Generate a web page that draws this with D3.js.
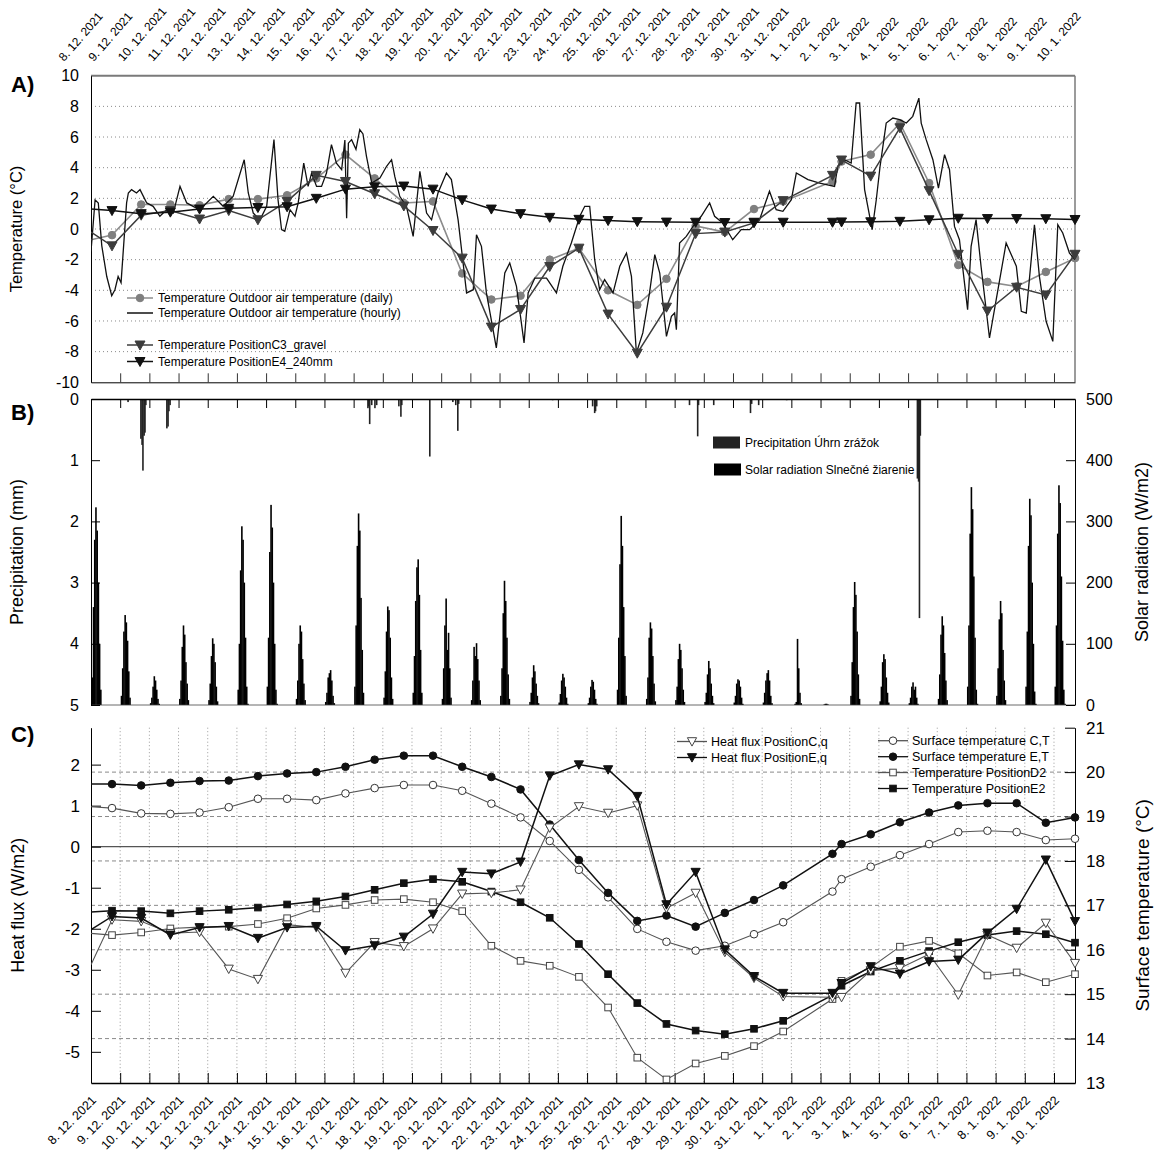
<!DOCTYPE html>
<html><head><meta charset="utf-8">
<script src="https://cdn.jsdelivr.net/npm/d3@7"></script>
<style>body{margin:0;background:#fff}</style>
</head><body><svg id="c" width="1158" height="1154"></svg>
<script>
// ---------------- DATA ----------------
const dateLabels = ["8. 12. 2021","9. 12. 2021","10. 12. 2021","11. 12. 2021","12. 12. 2021","13. 12. 2021","14. 12. 2021","15. 12. 2021","16. 12. 2021","17. 12. 2021","18. 12. 2021","19. 12. 2021","20. 12. 2021","21. 12. 2021","22. 12. 2021","23. 12. 2021","24. 12. 2021","25. 12. 2021","26. 12. 2021","27. 12. 2021","28. 12. 2021","29. 12. 2021","30. 12. 2021","31. 12. 2021","1. 1. 2022","2. 1. 2022","3. 1. 2022","4. 1. 2022","5. 1. 2022","6. 1. 2022","7. 1. 2022","8. 1. 2022","9. 1. 2022","10. 1. 2022"];

// time of daily values (days after 8.12.), first entry = value at left edge
const dailyDays = [0,0.72,1.72,2.72,3.72,4.72,5.72,6.72,7.72,8.72,9.72,10.72,11.72,12.72,13.72,14.72,15.72,16.72,17.72,18.72,19.72,20.72,21.72,22.72,23.72,25.41,25.72,26.72,27.72,28.72,29.72,30.72,31.72,32.72,33.72];

// Panel A
const outdoorDaily = [-0.7,-0.4,1.6,1.6,1.55,1.95,1.95,2.2,3.3,4.85,3.3,1.7,1.8,-2.9,-4.6,-4.35,-2.0,-1.25,-4.0,-4.95,-3.25,0.2,-0.2,1.3,1.8,3.1,4.4,4.85,6.9,3.0,-2.35,-3.45,-3.75,-2.8,-1.9];
const posC3gravel = [-0.2,-1.1,0.9,1.2,0.65,1.2,0.6,1.8,3.5,3.1,2.3,1.5,-0.1,-1.9,-6.4,-5.25,-2.45,-1.25,-5.55,-8.1,-5.1,-0.3,-0.2,0.4,1.85,3.5,4.5,3.45,6.6,2.5,-1.65,-5.35,-3.8,-4.3,-1.65];
const posE4_240 = [1.3,1.2,1.0,1.1,1.3,1.35,1.4,1.45,2.0,2.6,2.75,2.8,2.6,1.9,1.3,1.0,0.76,0.63,0.55,0.48,0.45,0.44,0.42,0.44,0.44,0.44,0.46,0.47,0.5,0.6,0.7,0.68,0.68,0.67,0.62];

const hourlyDays = [0,0.14,0.25,0.37,0.54,0.71,0.82,0.93,1.03,1.22,1.28,1.39,1.56,1.68,1.91,2.13,2.36,2.59,2.82,3.05,3.28,3.5,3.73,4.19,4.53,4.87,5.25,5.39,5.56,5.79,6.02,6.27,6.41,6.53,6.64,6.82,6.99,7.1,7.29,7.44,7.56,7.73,7.9,8.07,8.24,8.41,8.59,8.7,8.76,8.82,8.93,9.08,9.21,9.32,9.44,9.62,9.9,10.13,10.3,10.41,10.58,10.81,11.04,11.27,11.5,11.67,11.89,12.18,12.35,12.58,12.87,13.1,13.21,13.38,13.55,13.89,14.18,14.35,14.58,14.84,14.98,15.21,15.61,15.95,16.17,16.46,16.75,16.92,17.09,17.26,17.43,17.6,17.89,18.12,18.35,18.52,18.69,18.91,19.14,19.32,19.49,19.72,19.89,20.0,20.06,20.17,20.4,20.63,20.91,21.2,21.37,21.65,21.99,22.28,22.57,22.91,23.25,23.48,23.71,24.0,24.17,24.57,24.97,25.48,25.59,25.82,26.05,26.22,26.34,26.51,26.77,26.91,27.04,27.25,27.48,27.71,27.94,28.16,28.37,28.45,28.62,28.85,29.04,29.25,29.42,29.59,29.76,30.04,30.16,30.33,30.5,30.79,31.02,31.36,31.71,31.88,32.05,32.33,32.5,32.73,32.96,33.13,33.3,33.53,33.72];
const hourlyTemp = [-1.46,1.9,1.7,-1.1,-3.1,-4.35,-3.96,-3.1,-3.5,1.7,2.35,2.57,2.35,2.57,1.7,1.48,0.83,1.26,1.04,2.78,1.7,1.48,1.26,2.13,1.48,2.13,4.52,2.35,1.04,0.6,1.48,5.83,1.9,-0.04,-0.15,1.26,0.83,1.7,4.3,2.78,3.65,2.78,2.78,3.65,5.5,4.3,3.87,5.8,0.7,5.6,5.83,5.2,6.48,6.2,4.74,3.0,3.33,4.09,4.52,3.43,2.13,1.48,-0.48,3.76,1.04,0.6,2.35,3.65,3.22,0.6,-4.17,-3.96,-0.37,-1.13,-4.17,-7.76,-2.87,-2.22,-3.74,-7.43,-4.17,-3.2,-3.2,-4.17,-2.43,-0.91,0.83,1.48,1.48,-2.0,-3.96,-3.3,-4.17,-2.43,-1.57,-3.09,-8.09,-6.78,-4.17,-1.67,-2.87,-7.0,-5.7,-5.48,-6.57,-0.91,-0.48,0.17,0.83,1.7,0.83,0.39,-0.7,-0.04,-0.04,0.6,2.46,1.26,1.15,1.91,3.65,3.22,3.0,2.78,4.09,4.52,4.3,8.22,8.22,2.57,-0.04,1.91,4.09,6.91,7.24,7.13,6.91,7.35,8.54,6.91,5.83,4.52,2.67,4.85,3.87,0.17,-0.7,-5.26,-1.13,0.61,-2.43,-7.11,-4.61,-0.91,-2.43,-5.37,-5.48,0.28,-3.09,-6.02,-7.33,0.28,-0.26,-1.57,-2.0];

// Panel B: hourly solar radiation (W/m2), 9 daylight hours per day
const solarHourly = [
 [45,160,270,323,285,200,100,25,0],[15,60,120,147,135,105,55,12,0],[3,12,30,47,40,25,10,2,0],
 [10,40,95,130,115,70,35,8,0],[8,35,80,109,100,70,30,6,0],[25,100,220,292,270,200,110,30,2],
 [30,110,250,327,290,200,100,25,2],[10,40,100,130,120,75,35,8,0],[5,20,45,52,57,40,15,3,0],
 [30,130,260,313,285,175,90,20,0],[12,55,120,161,155,110,45,10,0],[20,80,170,225,238,180,90,20,0],
 [10,60,130,174,90,118,60,12,0],[8,40,95,80,101,75,40,8,0],[15,60,150,203,170,110,50,10,0],
 [5,20,45,65,55,35,15,3,0],[4,18,40,51,45,30,12,2,0],[3,12,30,41,38,25,10,2,0],
 [25,110,230,309,260,160,80,15,0],[10,45,110,135,125,80,35,6,0],[8,30,75,100,90,60,25,5,0],
 [5,20,50,72,60,35,15,3,0],[4,15,35,42,40,30,12,2,0],[4,20,40,52,57,40,15,3,0],
 [0,0,2,5,108,60,20,3,0],[0,0,1,2,2,1,0,0,0],[15,70,160,201,180,120,50,10,0],
 [6,30,70,83,75,45,20,4,0],[3,12,30,37,25,30,12,2,0],[10,50,115,145,130,85,40,8,0],
 [30,130,280,356,320,210,110,25,2],[15,60,140,170,150,90,40,8,0],[30,120,260,337,310,200,100,22,2],
 [30,130,280,359,330,210,105,25,2]];
const solarNoonOffset = 0.17;
const precipDays = [1.27,1.71,1.75,1.78,1.82,1.85,1.88,2.6,2.64,2.67,2.71,9.49,9.52,9.55,9.62,9.73,9.79,10.55,10.62,10.65,11.61,12.4,12.5,12.57,12.6,15.82,17.19,17.26,17.29,17.33,20.51,20.79,20.82,21.34,22.6,22.64,22.88,23.84,28.32,28.36,28.39,28.42];
const precipMm = [0.05,0.65,0.75,1.17,0.6,0.55,0.1,0.48,0.45,0.2,0.1,0.15,0.12,0.41,0.1,0.15,0.1,0.12,0.29,0.1,0.94,0.05,0.1,0.52,0.08,0.02,0.12,0.23,0.2,0.12,0.1,0.61,0.1,0.1,0.23,0.08,0.1,0.02,1.3,1.35,3.58,0.6];

// Panel C
const surfaceTempC = [19.22,19.19,19.07,19.06,19.09,19.21,19.40,19.40,19.37,19.52,19.64,19.71,19.71,19.58,19.29,18.98,18.45,17.80,17.18,16.47,16.18,15.98,16.09,16.35,16.62,17.31,17.59,17.87,18.13,18.38,18.65,18.68,18.65,18.47,18.50];
const surfaceTempE = [19.73,19.73,19.70,19.76,19.80,19.81,19.91,19.97,20.00,20.12,20.28,20.37,20.37,20.12,19.89,19.61,18.82,18.02,17.28,16.65,16.77,16.52,16.83,17.12,17.45,18.16,18.38,18.60,18.87,19.09,19.25,19.30,19.30,18.86,18.98];
const tempPosD2 = [16.37,16.33,16.39,16.48,16.51,16.52,16.58,16.71,16.93,17.01,17.12,17.14,17.07,16.87,16.09,15.75,15.64,15.39,14.70,13.57,13.08,13.44,13.61,13.83,14.16,14.89,15.30,15.60,16.07,16.20,15.92,15.42,15.49,15.27,15.45];
const tempPosE2 = [16.85,16.88,16.87,16.82,16.87,16.90,16.95,17.02,17.09,17.20,17.35,17.50,17.59,17.53,17.31,17.07,16.72,16.13,15.45,14.80,14.33,14.18,14.10,14.22,14.40,14.98,15.19,15.51,15.75,15.97,16.17,16.33,16.42,16.35,16.16];
const heatFluxC = [-2.88,-1.78,-1.82,-2.11,-2.08,-2.98,-3.23,-1.90,-1.97,-3.08,-2.33,-2.43,-2.00,-1.15,-1.13,-1.05,0.46,0.98,0.82,1.00,-1.50,-1.13,-2.57,-3.20,-3.65,-3.67,-3.67,-3.02,-2.96,-2.62,-3.61,-2.15,-2.47,-1.86,-2.84];
const heatFluxE = [-2.02,-1.70,-1.74,-2.15,-1.97,-1.94,-2.23,-1.97,-1.94,-2.53,-2.41,-2.20,-1.64,-0.62,-0.66,-0.37,1.73,2.00,1.88,1.23,-1.41,-0.62,-2.51,-3.16,-3.57,-3.57,-3.33,-2.92,-3.10,-2.80,-2.76,-2.10,-1.52,-0.32,-1.82];

// ---------------- DRAW ----------------
const FONT = '"Liberation Sans", Arial, Helvetica, sans-serif';
const svg = d3.select("#c").style("font-family", FONT);
const X0 = 91, X1 = 1075;
const x = d3.scaleLinear().domain([0, 33.72]).range([X0, X1]);
const dayTicks = d3.range(1, 34);
const PA = {top: 75.7, bottom: 382.3};
const PB = {top: 399, bottom: 705};
const PC = {top: 727.7, bottom: 1083};
const yA = d3.scaleLinear().domain([-10, 10]).range([PA.bottom, PA.top]);
const yP = d3.scaleLinear().domain([0, 5]).range([PB.top, PB.bottom]);
const yS = d3.scaleLinear().domain([0, 500]).range([PB.bottom, PB.top]);
const yQ = d3.scaleLinear().domain([-5.76, 2.9]).range([PC.bottom, PC.top]);
const yT = d3.scaleLinear().domain([13, 21]).range([PC.bottom, PC.top]);
const fmt = d => String(d);

const defs = svg.append("defs");
[["clipA", PA], ["clipB", PB], ["clipC", PC]].forEach(([id, p]) => {
  defs.append("clipPath").attr("id", id).append("rect")
    .attr("x", X0).attr("y", p.top).attr("width", X1 - X0).attr("height", p.bottom - p.top);
});

const triDown = "M-5,-4L5,-4L0,5Z";
const triDownS = "M-4.6,-3.8L4.6,-3.8L0,4.6Z";
function marker(g, type, cx, cy, fill, stroke) {
  if (type === "circle") return g.append("circle").attr("cx", cx).attr("cy", cy).attr("r", 3.8).attr("fill", fill).attr("stroke", stroke).attr("stroke-width", 1);
  if (type === "square") return g.append("rect").attr("x", cx - 3.3).attr("y", cy - 3.3).attr("width", 6.6).attr("height", 6.6).attr("fill", fill).attr("stroke", stroke).attr("stroke-width", 1);
  if (type === "tri") return g.append("path").attr("d", triDown).attr("transform", `translate(${cx},${cy})`).attr("fill", fill).attr("stroke", stroke).attr("stroke-width", 1);
  if (type === "triS") return g.append("path").attr("d", triDownS).attr("transform", `translate(${cx},${cy})`).attr("fill", fill).attr("stroke", stroke).attr("stroke-width", 1);
}
function drawSeries(values, yScale, clip, lineColor, lineWidth, mType, mFill, mStroke) {
  const g = svg.append("g");
  const pts = dailyDays.map((d, i) => [d, values[i]]);
  g.append("path").datum(pts).attr("clip-path", `url(#${clip})`)
    .attr("d", d3.line().x(d => x(d[0])).y(d => yScale(d[1])))
    .attr("fill", "none").attr("stroke", lineColor).attr("stroke-width", lineWidth);
  pts.slice(1).forEach(p => marker(g, mType, x(p[0]), yScale(p[1]), mFill, mStroke));
}

// panel letters
[["A)", 92], ["B)", 420], ["C)", 742]].forEach(([t, yb]) =>
  svg.append("text").attr("x", 11).attr("y", yb).attr("font-size", 22).attr("font-weight", "bold").text(t));

// ---- top date labels
const xTop = d3.scaleLinear().domain([0, 33]).range([x(0) - 27, x(33) - 12]);
svg.append("g").selectAll("text").data(dateLabels).join("text")
  .attr("transform", (d, i) => `translate(${xTop(i)},62) rotate(-49)`)
  .attr("font-size", 12).attr("text-anchor", "start").text(d => d);

// ---- Panel A
const gA = svg.append("g");
gA.selectAll("line.grid").data(d3.range(-8, 9, 2)).join("line")
  .attr("x1", X0).attr("x2", X1).attr("y1", d => yA(d)).attr("y2", d => yA(d))
  .attr("stroke", "#8a8a8a").attr("stroke-width", 1).attr("stroke-dasharray", "1,3");
gA.append("line").attr("x1", X0).attr("x2", X1).attr("y1", PA.top).attr("y2", PA.top).attr("stroke", "#7a7a7a").attr("stroke-width", 2);
gA.append("line").attr("x1", X1).attr("x2", X1).attr("y1", PA.top).attr("y2", PA.bottom).attr("stroke", "#7a7a7a").attr("stroke-width", 1.5);
const axA = gA.append("g").attr("transform", `translate(${X0},0)`)
  .call(d3.axisLeft(yA).tickValues(d3.range(-10, 11, 2)).tickSize(0).tickPadding(12).tickFormat(fmt));
axA.select(".domain").attr("stroke", "#000");
axA.selectAll("text").attr("font-size", 16).attr("font-family", FONT);
const axAb = gA.append("g").attr("transform", `translate(0,${PA.bottom})`)
  .call(d3.axisBottom(x).tickValues(dayTicks).tickSize(-9).tickSizeOuter(0).tickFormat(""));
axAb.selectAll("line").attr("stroke", "#333");
svg.append("text").attr("transform", `translate(22,${(PA.top + PA.bottom) / 2}) rotate(-90)`)
  .attr("text-anchor", "middle").attr("font-size", 16.5).text("Temperature (°C)");

drawSeries(outdoorDaily, yA, "clipA", "#8c8c8c", 1.6, "circle", "#7f7f7f", "#7f7f7f");
svg.append("path").datum(hourlyDays.map((d, i) => [d, hourlyTemp[i]])).attr("clip-path", "url(#clipA)")
  .attr("d", d3.line().x(d => x(d[0])).y(d => yA(d[1])))
  .attr("fill", "none").attr("stroke", "#111").attr("stroke-width", 1.3);
drawSeries(posC3gravel, yA, "clipA", "#3c3c3c", 1.5, "tri", "#3c3c3c", "#3c3c3c");
drawSeries(posE4_240, yA, "clipA", "#111", 1.5, "tri", "#111", "#111");

// legend A
const legA = [
  {t: "Temperature Outdoor air temperature (daily)", c: "#8c8c8c", m: "circle", f: "#7f7f7f", y: 298},
  {t: "Temperature Outdoor air temperature (hourly)", c: "#111", m: null, y: 313},
  {t: "Temperature PositionC3_gravel", c: "#3c3c3c", m: "tri", f: "#3c3c3c", y: 345},
  {t: "Temperature PositionE4_240mm", c: "#111", m: "tri", f: "#111", y: 361.5}];
legA.forEach(l => {
  const g = svg.append("g");
  g.append("line").attr("x1", 127).attr("x2", 153).attr("y1", l.y).attr("y2", l.y).attr("stroke", l.c).attr("stroke-width", 1.5);
  if (l.m) marker(g, l.m, 140, l.y, l.f, l.f);
  g.append("text").attr("x", 158).attr("y", l.y + 4).attr("font-size", 12).text(l.t);
});

// ---- Panel B
const gB = svg.append("g");
const barsS = gB.append("g").attr("clip-path", "url(#clipB)");
solarHourly.forEach((day, k) => day.forEach((v, i) => {
  if (v <= 0) return;
  const t = k + solarNoonOffset + (i - 3) / 24;
  barsS.append("rect").attr("x", x(t) - 0.8).attr("width", 1.6)
    .attr("y", yS(v)).attr("height", yS(0) - yS(v)).attr("fill", "#000");
}));
const barsP = gB.append("g").attr("clip-path", "url(#clipB)");
barsP.selectAll("rect").data(precipDays).join("rect")
  .attr("x", d => x(d) - 0.8).attr("width", 1.6)
  .attr("y", yP(0)).attr("height", (d, i) => yP(precipMm[i]) - yP(0)).attr("fill", "#222");
gB.append("line").attr("x1", X0).attr("x2", X1).attr("y1", PB.bottom).attr("y2", PB.bottom).attr("stroke", "#444").attr("stroke-width", 0.8);
const axBt = gB.append("g").attr("transform", `translate(0,${PB.top})`)
  .call(d3.axisTop(x).tickValues(dayTicks).tickSize(-9).tickSizeOuter(0).tickFormat(""));
axBt.select(".domain").attr("stroke-width", 1.3);
const axBl = gB.append("g").attr("transform", `translate(${X0},0)`)
  .call(d3.axisLeft(yP).tickValues(d3.range(0, 6)).tickSize(-9).tickSizeOuter(0).tickPadding(12).tickFormat(fmt));
axBl.selectAll("text").attr("font-size", 16).attr("font-family", FONT);
const axBr = gB.append("g").attr("transform", `translate(${X1},0)`)
  .call(d3.axisRight(yS).tickValues(d3.range(0, 501, 100)).tickSize(-9).tickSizeOuter(0).tickPadding(11).tickFormat(fmt));
axBr.selectAll("text").attr("font-size", 16).attr("font-family", FONT);
svg.append("text").attr("transform", `translate(23,${(PB.top + PB.bottom) / 2}) rotate(-90)`)
  .attr("text-anchor", "middle").attr("font-size", 18).text("Precipitation (mm)");
svg.append("text").attr("transform", `translate(1148,${(PB.top + PB.bottom) / 2}) rotate(-90)`)
  .attr("text-anchor", "middle").attr("font-size", 18).text("Solar radiation (W/m2)");
// legend B
svg.append("rect").attr("x", 713).attr("y", 436.5).attr("width", 27).attr("height", 12).attr("fill", "#222");
svg.append("text").attr("x", 745).attr("y", 447).attr("font-size", 12).text("Precipitation Úhrn zrážok");
svg.append("rect").attr("x", 714).attr("y", 463.5).attr("width", 27).attr("height", 12).attr("fill", "#000");
svg.append("text").attr("x", 745).attr("y", 474).attr("font-size", 12).text("Solar radiation Slnečné žiarenie");

// ---- Panel C
const gC = svg.append("g");
gC.selectAll("line.vg").data(dayTicks).join("line")
  .attr("x1", d => x(d)).attr("x2", d => x(d)).attr("y1", PC.top).attr("y2", PC.bottom)
  .attr("stroke", "#9a9a9a").attr("stroke-width", 1).attr("stroke-dasharray", "1,2.5");
gC.selectAll("line.hg").data(d3.range(14, 21)).join("line")
  .attr("x1", X0).attr("x2", X1).attr("y1", d => yT(d)).attr("y2", d => yT(d))
  .attr("stroke", "#8a8a8a").attr("stroke-width", 1).attr("stroke-dasharray", "4,3");
gC.append("line").attr("x1", X0).attr("x2", X1).attr("y1", yQ(0)).attr("y2", yQ(0)).attr("stroke", "#555").attr("stroke-width", 1.3);
const axCl = gC.append("g").attr("transform", `translate(${X0},0)`)
  .call(d3.axisLeft(yQ).tickValues(d3.range(-5, 3)).tickSize(-10).tickSizeOuter(0).tickPadding(11).tickFormat(fmt));
axCl.selectAll("text").attr("font-size", 17).attr("font-family", FONT);
const axCr = gC.append("g").attr("transform", `translate(${X1},0)`)
  .call(d3.axisRight(yT).tickValues(d3.range(13, 22)).tickSize(-10).tickSizeOuter(0).tickPadding(11).tickFormat(fmt));
axCr.selectAll("text").attr("font-size", 17).attr("font-family", FONT);
const axCb = gC.append("g").attr("transform", `translate(0,${PC.bottom})`)
  .call(d3.axisBottom(x).tickValues(dayTicks).tickSize(-10).tickSizeOuter(0).tickFormat(""));
axCb.select(".domain").attr("stroke-width", 1.3);
svg.append("text").attr("transform", `translate(24,${(PC.top + PC.bottom) / 2}) rotate(-90)`)
  .attr("text-anchor", "middle").attr("font-size", 18).text("Heat flux (W/m2)");
svg.append("text").attr("transform", `translate(1149,${(PC.top + PC.bottom) / 2}) rotate(-90)`)
  .attr("text-anchor", "middle").attr("font-size", 19).text("Surface temperature (°C)");

drawSeries(surfaceTempC, yT, "clipC", "#555", 1.1, "circle", "#fff", "#333");
drawSeries(surfaceTempE, yT, "clipC", "#111", 1.5, "circle", "#111", "#111");
drawSeries(tempPosD2, yT, "clipC", "#555", 1.1, "square", "#fff", "#444");
drawSeries(tempPosE2, yT, "clipC", "#111", 1.5, "square", "#111", "#111");
drawSeries(heatFluxC, yQ, "clipC", "#555", 1.1, "triS", "#fff", "#444");
drawSeries(heatFluxE, yQ, "clipC", "#111", 1.5, "triS", "#111", "#111");

// legend C
const legC = [
  {t: "Heat flux PositionC,q", x: 677, y: 741.5, c: "#555", m: "triS", f: "#fff", s: "#444"},
  {t: "Heat flux PositionE,q", x: 677, y: 757.5, c: "#111", m: "triS", f: "#111", s: "#111"},
  {t: "Surface temperature C,T", x: 878, y: 740.7, c: "#555", m: "circle", f: "#fff", s: "#333"},
  {t: "Surface temperature E,T", x: 878, y: 756.7, c: "#111", m: "circle", f: "#111", s: "#111"},
  {t: "Temperature PositionD2", x: 878, y: 772.5, c: "#555", m: "square", f: "#fff", s: "#444"},
  {t: "Temperature PositionE2", x: 878, y: 788.5, c: "#111", m: "square", f: "#111", s: "#111"}];
legC.forEach(l => {
  const g = svg.append("g");
  g.append("line").attr("x1", l.x).attr("x2", l.x + 30).attr("y1", l.y).attr("y2", l.y).attr("stroke", l.c).attr("stroke-width", 1.3);
  marker(g, l.m, l.x + 15, l.y, l.f, l.s);
  g.append("text").attr("x", l.x + 34).attr("y", l.y + 4.5).attr("font-size", 12.5).text(l.t);
});

// ---- bottom date labels
svg.append("g").selectAll("text").data(dateLabels).join("text")
  .attr("transform", (d, i) => `translate(${x(i) + 6},1101) rotate(-45)`)
  .attr("font-size", 12.5).attr("text-anchor", "end").text(d => d);
</script></body></html>
